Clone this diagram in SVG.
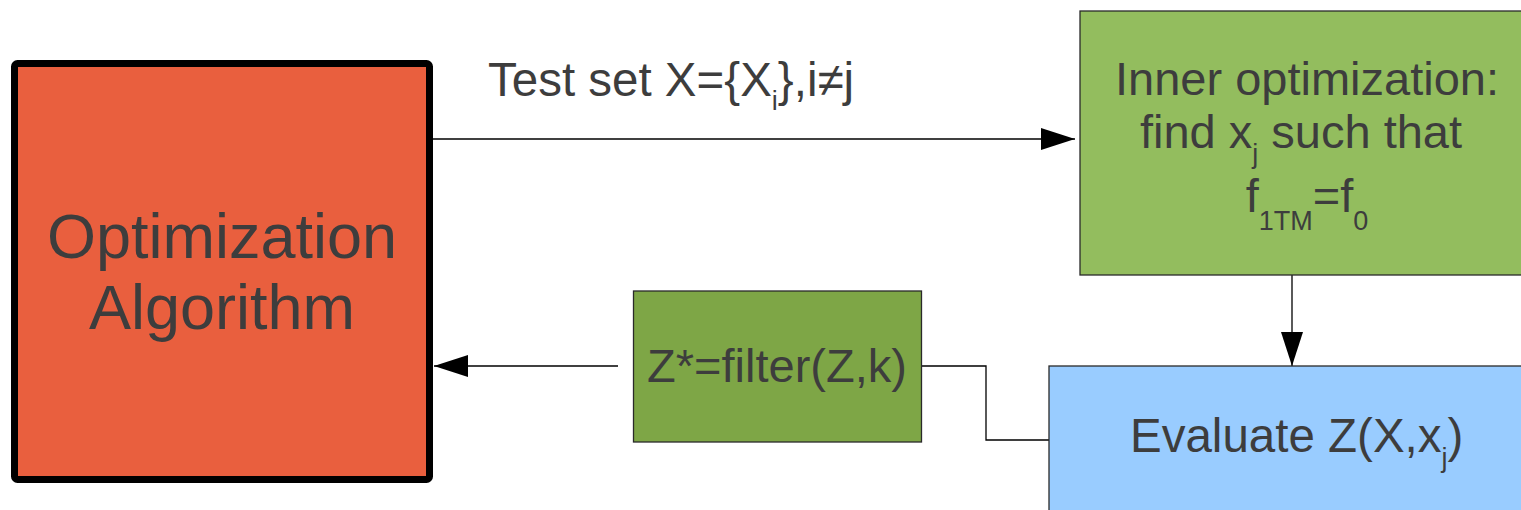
<svg xmlns="http://www.w3.org/2000/svg" width="1521" height="510" viewBox="0 0 1521 510">
<style>
.t{font-family:"Liberation Sans",Arial,sans-serif;fill:#3d3d3d}
.c{fill:none;stroke:#000;stroke-width:1.3}
.b{stroke:#2a2a2a;stroke-width:1.3}
</style>
<defs>
<marker id="ah" markerUnits="userSpaceOnUse" markerWidth="34" markerHeight="22" refX="34" refY="11" orient="auto">
<path d="M0,0 L34,11 L0,22 Z" fill="#000"/>
</marker>
</defs>
<rect width="1521" height="510" fill="#fff"/>
<g id="connectors">
<line class="c" x1="433" y1="139" x2="1075" y2="139" marker-end="url(#ah)"/>
<path class="c" d="M1292,268 V366" marker-end="url(#ah)"/>
<path class="c" d="M1049,440 H986 V366 H922"/>
<line class="c" x1="618" y1="366" x2="434" y2="366" marker-end="url(#ah)"/>
</g>
<g id="opt">
<rect x="14.5" y="63.5" width="415" height="416" rx="3" fill="#E95F3E" stroke="#000" stroke-width="7"/>
<text class="t" x="222" y="258" font-size="63" text-anchor="middle">Optimization</text>
<text class="t" x="222" y="329" font-size="63" text-anchor="middle">Algorithm</text>
</g>
<g id="label-test">
<text class="t" x="488" y="96" font-size="47.5">Test set X={X<tspan font-size="27" dy="14">i</tspan><tspan dy="-14">},i≠j</tspan></text>
</g>
<g id="inner">
<rect class="b" x="1080" y="11" width="460" height="264" fill="#93BD5E"/>
<text class="t" x="1307" y="95" font-size="47" text-anchor="middle">Inner optimization:</text>
<text class="t" x="1301" y="148" font-size="47" text-anchor="middle">find x<tspan font-size="27" dy="15">j</tspan><tspan dy="-15"> such that</tspan></text>
<text class="t" x="1307" y="212" font-size="47" text-anchor="middle">f<tspan font-size="27" dy="18">1TM</tspan><tspan dy="-18">=f</tspan><tspan font-size="27" dy="18">0</tspan></text>
</g>
<g id="filter">
<rect class="b" x="633.5" y="291" width="288" height="151" fill="#7EA646"/>
<text class="t" x="777" y="382" font-size="47" text-anchor="middle">Z*=filter(Z,k)</text>
</g>
<g id="evaluate">
<rect class="b" x="1049" y="366" width="490" height="160" fill="#99CCFF"/>
<text class="t" x="1130" y="452" font-size="47.5">Evaluate Z(X,x<tspan font-size="27" dy="15">j</tspan><tspan dy="-15">)</tspan></text>
</g>
</svg>
